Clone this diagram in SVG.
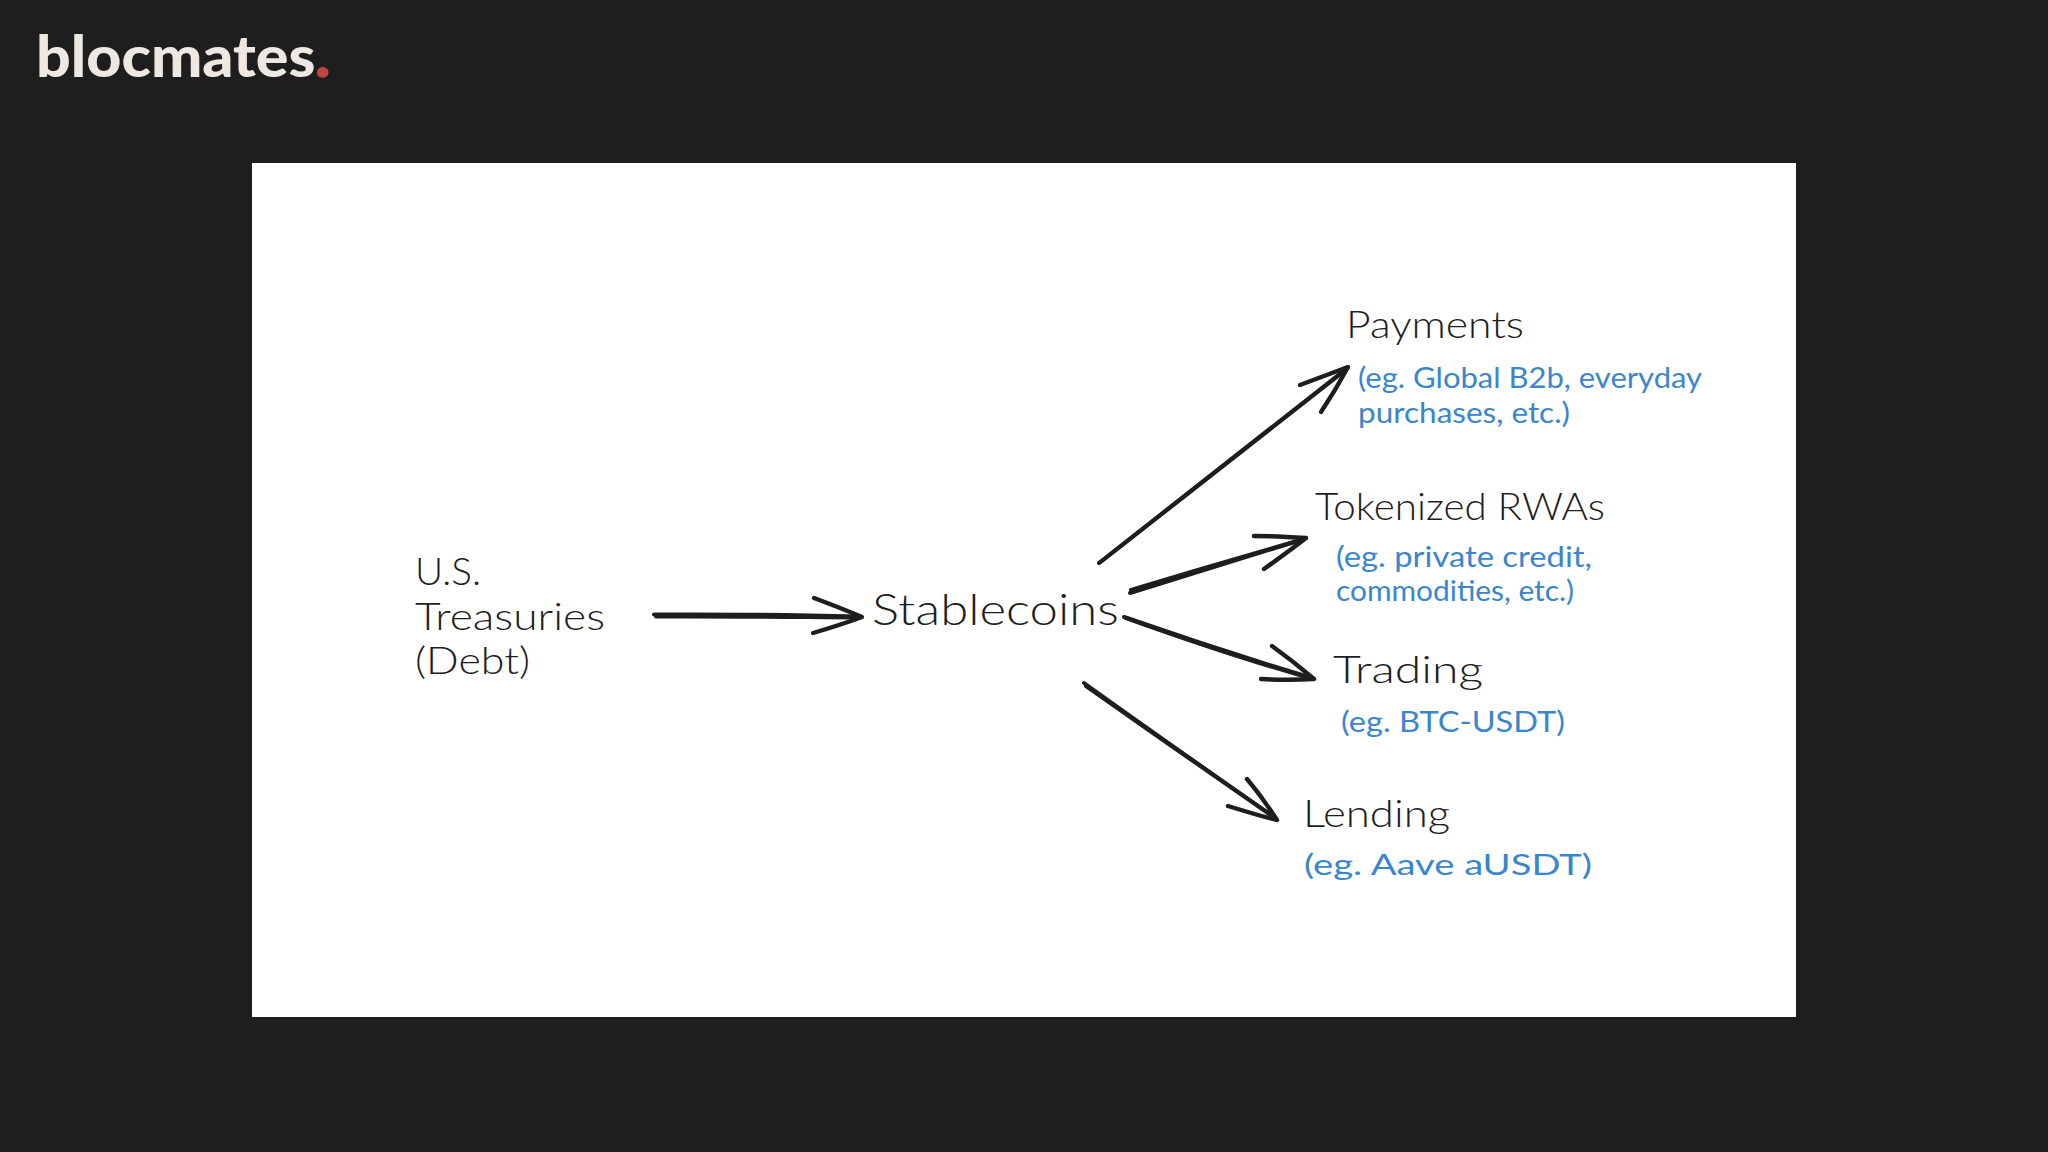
<svg xmlns="http://www.w3.org/2000/svg" width="2048" height="1152" viewBox="0 0 2048 1152">
<style>
.logo{font-family:Lato,"Liberation Sans",sans-serif;font-weight:900;font-size:58px;fill:#ede8e1}
.dot{fill:#c0463f;stroke:#c0463f;stroke-width:1.5}
.t{font-family:Lato,"Noto Sans",sans-serif;font-weight:300;fill:#1e1e1e;font-size:37px}
.s{font-size:44px}
.b{font-family:Lato,"Noto Sans",sans-serif;font-weight:400;fill:#3a86cc;font-size:29px}
.a{fill:none;stroke:#1e1e1e;stroke-linecap:round;stroke-linejoin:round}
.m{stroke-width:4}
.h{stroke-width:4.4}
</style>
<rect width="2048" height="1152" fill="#1e1e1e"/>
<rect id="panel" x="252" y="163" width="1544" height="854" fill="#ffffff"/>
<text class="logo" x="36" y="77" textLength="294" lengthAdjust="spacingAndGlyphs">blocmates<tspan class="dot">.</tspan></text>
<g id="connectors">
<g id="arrow-treasuries-stablecoins">
<path class="a m" d="M654 614.5C720 614 790 615 860 616.5"/><path class="a m" d="M656 616.5C722 616 792 617 860 617.5"/>
<path class="a h" d="M814 598C830 604 848 611 862 617C846 623 830 628 813 633"/>
</g>
<g id="arrow-payments">
<path class="a m" d="M1099 563C1180 500 1270 428 1346 369"/><path class="a m" d="M1100 562.5C1182 498 1268 431 1345 370.5"/>
<path class="a h" d="M1300 385C1316 379 1332 373 1348 367C1340 382 1331 397 1321 412"/>
</g>
<g id="arrow-rwas">
<path class="a m" d="M1130 593C1190 574 1250 556 1304 539"/><path class="a m" d="M1131 590C1190 572 1248 555 1303 539.5"/>
<path class="a h" d="M1254 536C1272 536 1290 537 1306 538C1292 549 1278 559 1264 569"/>
</g>
<g id="arrow-trading">
<path class="a m" d="M1124 617C1190 640 1252 660 1312 678"/><path class="a m" d="M1126 618C1190 641 1250 661 1310 678"/>
<path class="a h" d="M1272 646C1286 656 1300 667 1314 679C1296 680 1278 680 1261 679"/>
</g>
<g id="arrow-lending">
<path class="a m" d="M1084 683C1148 729 1214 775 1275 818"/><path class="a m" d="M1086 686C1150 731 1214 776 1274 817"/>
<path class="a h" d="M1247 779C1258 792 1268 806 1277 820C1260 816 1244 811 1228 806"/>
</g>
</g>
<g id="node-treasuries">
<text class="t" x="415" y="585" textLength="66" lengthAdjust="spacingAndGlyphs">U.S.</text>
<text class="t" x="415" y="630" textLength="190" lengthAdjust="spacingAndGlyphs">Treasuries</text>
<text class="t" x="415" y="674" textLength="115" lengthAdjust="spacingAndGlyphs">(Debt)</text>
</g>
<g id="node-stablecoins">
<text class="t s" x="872" y="625" textLength="247" lengthAdjust="spacingAndGlyphs">Stablecoins</text>
</g>
<g id="node-payments">
<text class="t" x="1346" y="338" textLength="178" lengthAdjust="spacingAndGlyphs">Payments</text>
<text class="b" x="1358" y="388" textLength="344" lengthAdjust="spacingAndGlyphs">(eg. Global B2b, everyday</text>
<text class="b" x="1358" y="423" textLength="212" lengthAdjust="spacingAndGlyphs">purchases, etc.)</text>
</g>
<g id="node-rwas">
<text class="t" x="1315" y="520" textLength="290" lengthAdjust="spacingAndGlyphs">Tokenized RWAs</text>
<text class="b" x="1336" y="567" textLength="256" lengthAdjust="spacingAndGlyphs">(eg. private credit,</text>
<text class="b" x="1336" y="601" textLength="238" lengthAdjust="spacingAndGlyphs">commodities, etc.)</text>
</g>
<g id="node-trading">
<text class="t" x="1333" y="683" textLength="150" lengthAdjust="spacingAndGlyphs">Trading</text>
<text class="b" x="1341" y="732" textLength="224" lengthAdjust="spacingAndGlyphs">(eg. BTC-USDT)</text>
</g>
<g id="node-lending">
<text class="t" x="1303" y="827" textLength="147" lengthAdjust="spacingAndGlyphs">Lending</text>
<text class="b" x="1304" y="875" textLength="288" lengthAdjust="spacingAndGlyphs">(eg. Aave aUSDT)</text>
</g>
</svg>
